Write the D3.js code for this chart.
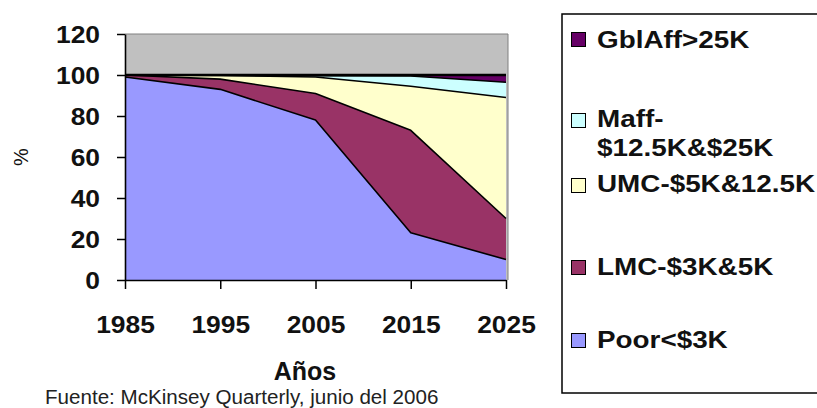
<!DOCTYPE html>
<html>
<head>
<meta charset="utf-8">
<script src="https://cdn.jsdelivr.net/npm/d3@7/dist/d3.min.js"></script>
<style>
  html, body { margin: 0; padding: 0; background: #fff; }
  svg { display: block; font-family: "Liberation Sans", Arial, sans-serif; }
</style>
</head>
<body>
<svg id="chart" width="817" height="408"></svg>
<script>
// Income-segment share of households (%), stacked, by year
const years = [1985, 1995, 2005, 2015, 2025];
const poor   = [99, 93, 78, 23, 10];
const lmc    = [1, 5, 13, 50, 20];
const umc    = [0, 1.8, 8, 21.5, 59];
const maff   = [0, 0.1, 0.7, 5, 7.5];
const gblAff = [0, 0.1, 0.3, 0.5, 3.5];

const seriesKeys   = ["poor", "lmc", "umc", "maff", "gblAff"];
const seriesLabels = {
  gblAff: ["GblAff>25K"],
  maff: ["Maff-", "$12.5K&$25K"],
  umc: ["UMC-$5K&12.5K"],
  lmc: ["LMC-$3K&5K"],
  poor: ["Poor<$3K"]
};
const colors = {
  poor: "#9999ff", lmc: "#993366", umc: "#ffffcc", maff: "#ccffff", gblAff: "#660066"
};
const yTicks = [0, 20, 40, 60, 80, 100, 120];

const rows = years.map((yr, i) => ({
  year: yr, poor: poor[i], lmc: lmc[i], umc: umc[i], maff: maff[i], gblAff: gblAff[i]
}));

const svg = d3.select("#chart");
const plotLeft = 125, plotRight = 506, plotTop = 34, plotBottom = 280;

const x = d3.scaleLinear().domain([1985, 2025]).range([plotLeft, plotRight]);
const y = d3.scaleLinear().domain([0, 120]).range([plotBottom, plotTop]);

// plot background
svg.append("rect")
  .attr("x", plotLeft).attr("y", plotTop)
  .attr("width", 508 - plotLeft).attr("height", plotBottom - plotTop)
  .attr("fill", "#c0c0c0");
svg.append("path")
  .attr("d", `M${plotLeft},${plotTop}H508V${plotBottom}`)
  .attr("fill", "none").attr("stroke", "#808080").attr("stroke-width", 1);

const stack = d3.stack().keys(seriesKeys);
const stacked = stack(rows);

const area = d3.area()
  .x(d => x(d.data.year))
  .y0(d => y(d[0]))
  .y1(d => y(d[1]));

svg.append("g").selectAll("path")
  .data(stacked)
  .join("path")
  .attr("d", area)
  .attr("fill", d => colors[d.key]);

const topLine = d3.line()
  .x(d => x(d.data.year))
  .y(d => y(d[1]));

svg.append("g").selectAll("path")
  .data(stacked)
  .join("path")
  .attr("d", topLine)
  .attr("fill", "none")
  .attr("stroke", "#000")
  .attr("stroke-width", (d, i) => i === stacked.length - 1 ? 2.5 : 1.6)
  .attr("stroke-linejoin", "round");

// axes
const sx = 1.1;
const yAxis = svg.append("g")
  .attr("transform", `translate(${plotLeft},0)`)
  .call(d3.axisLeft(y).tickValues(yTicks).tickSize(8).tickSizeOuter(0));
yAxis.select(".domain").attr("stroke", "#000").attr("stroke-width", 1.6);
yAxis.selectAll(".tick line").attr("stroke", "#000").attr("stroke-width", 1.5);
yAxis.selectAll(".tick text")
  .attr("font-size", 24).attr("font-weight", "bold").attr("fill", "#111")
  .attr("x", -25 / sx).attr("dy", "0.36em")
  .attr("transform", `scale(${sx},1)`);

const xAxis = svg.append("g")
  .attr("transform", `translate(0,${plotBottom})`)
  .call(d3.axisBottom(x).tickValues(years).tickFormat(d3.format("d")).tickSize(9).tickSizeOuter(0));
xAxis.select(".domain").attr("stroke", "#000").attr("stroke-width", 1.6);
xAxis.selectAll(".tick line").attr("stroke", "#000").attr("stroke-width", 1.5);
xAxis.selectAll(".tick text")
  .attr("font-size", 24).attr("font-weight", "bold").attr("fill", "#111")
  .attr("y", 53).attr("dy", 0)
  .attr("transform", `scale(${sx},1)`);

// axis titles
svg.append("text")
  .attr("transform", "translate(28,157) rotate(-90)")
  .attr("text-anchor", "middle")
  .attr("font-size", 20).attr("fill", "#111")
  .text("%");

svg.append("text")
  .attr("x", 305).attr("y", 380)
  .attr("text-anchor", "middle")
  .attr("font-size", 25).attr("font-weight", "bold").attr("fill", "#111")
  .text("Años");

svg.append("text")
  .attr("x", 45).attr("y", 404)
  .attr("font-size", 20).attr("fill", "#222")
  .attr("transform", "translate(45,0) scale(1.03,1) translate(-45,0)")
  .text("Fuente: McKinsey Quarterly, junio del 2006");

// legend
const legend = svg.append("g");
legend.append("rect")
  .attr("x", 562).attr("y", 14)
  .attr("width", 300).attr("height", 379)
  .attr("fill", "#fff").attr("stroke", "#000").attr("stroke-width", 1.5);

const legendRows = [
  { key: "gblAff", sq: 32, base: [48] },
  { key: "maff", sq: 113, base: [127, 156] },
  { key: "umc", sq: 178, base: [192] },
  { key: "lmc", sq: 260, base: [275] },
  { key: "poor", sq: 333, base: [348] }
];
const lsx = 1.16;
legendRows.forEach(r => {
  legend.append("rect")
    .attr("x", 571.5).attr("y", r.sq + 0.5)
    .attr("width", 14).attr("height", 14)
    .attr("fill", colors[r.key]).attr("stroke", "#000").attr("stroke-width", 1);
  seriesLabels[r.key].forEach((line, j) => {
    legend.append("text")
      .attr("transform", `translate(597,${r.base[j]}) scale(${lsx},1)`)
      .attr("font-size", 24).attr("font-weight", "bold").attr("fill", "#111")
      .text(line);
  });
});
</script>
</body>
</html>
